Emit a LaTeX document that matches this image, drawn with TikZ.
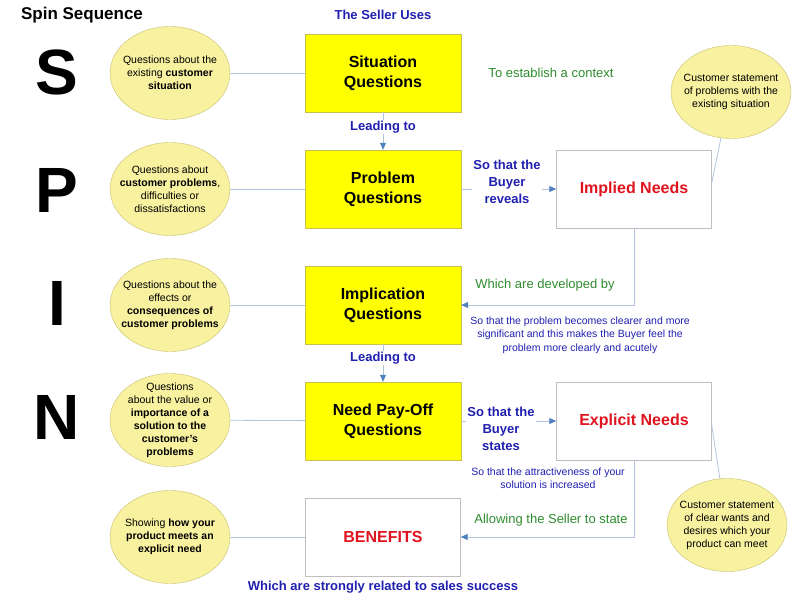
\documentclass[tikz,border=0pt]{standalone}
\usepackage{fontspec}
\setmainfont{Liberation Sans}
\usetikzlibrary{arrows.meta,shapes.geometric}
\definecolor{ell}{HTML}{F8F1A0}
\definecolor{elld}{HTML}{C8C070}
\definecolor{ybox}{HTML}{FFFF00}
\definecolor{yboxd}{HTML}{C8C050}
\definecolor{lnk}{HTML}{B4C4DC}
\definecolor{arr}{HTML}{4F81BD}
\definecolor{tblue}{HTML}{2020B0}
\definecolor{tgreen}{HTML}{2E8B2E}
\definecolor{tred}{HTML}{E0141E}
\begin{document}
\begin{tikzpicture}[x=1pt,y=-1pt,
 ell/.style={ellipse,draw=elld,fill=ell,minimum width=120pt,minimum height=93pt,inner sep=0pt},
 et/.style={align=center,font=\fontsize{10.5}{13}\selectfont,inner sep=0pt},
 yb/.style={draw=yboxd,fill=ybox,minimum width=156pt,minimum height=78pt,align=center,font=\fontsize{16}{20}\selectfont\bfseries},
 wb/.style={draw=gray!50,fill=white,minimum width=155pt,minimum height=78pt,align=center,font=\fontsize{16}{20}\selectfont\bfseries,text=tred},
 big/.style={font=\fontsize{64}{64}\selectfont\bfseries},
 ln/.style={draw=lnk,line width=0.8pt},
 ar/.style={ln,-{Triangle[length=7pt,width=6pt,fill=arr,color=arr]}},
 bl/.style={text=tblue,font=\fontsize{13}{17}\selectfont\bfseries,align=center},
 gr/.style={text=tgreen,font=\fontsize{13}{15}\selectfont},
 sm/.style={text=tblue,font=\fontsize{10.5}{13.5}\selectfont,align=center}]
\useasboundingbox (0,0) rectangle (800,596);
\node[font=\fontsize{17}{17}\selectfont\bfseries] (title) at (82,15) {Spin Sequence};
\node[bl] (seller) at (383,15) {The Seller Uses};
\node[big] (S) at (57,72) {S};
\node[big] (P) at (57,190) {P};
\node[big] (I) at (57,303) {I};
\node[big] (N) at (57,417) {N};
\node[ell] (e1) at (170,73) {};
\node[ell] (e2) at (170,189) {};
\node[ell] (e3) at (170,305) {};
\node[ell] (e4) at (170,420) {};
\node[ell] (e5) at (170,537) {};
\node[ell] (e6) at (731,92) {};
\node[ell] (e7) at (727,525) {};
\node[et] (x1) at (e1) {Questions about the\\existing \textbf{customer}\\\textbf{situation}};
\node[et] (x2) at (e2) {Questions about\\\textbf{customer problems},\\difficulties or\\dissatisfactions};
\node[et] (x3) at (e3) {Questions about the\\effects or\\\textbf{consequences of}\\\textbf{customer problems}};
\node[et] (x4) at (e4) {Questions\\about the value or\\\textbf{importance of a}\\\textbf{solution to the}\\\textbf{customer's}\\\textbf{problems}};
\node[et] (x5) at (e5) {Showing \textbf{how your}\\\textbf{product meets an}\\\textbf{explicit need}};
\node[et] (x6) at (e6) {Customer statement\\of problems with the\\existing situation};
\node[et] (x7) at (e7) {Customer statement\\of clear wants and\\desires which your\\product can meet};
\node[yb] (b1) at (383,73) {Situation\\Questions};
\node[yb] (b2) at (383,189) {Problem\\Questions};
\node[yb] (b3) at (383,305) {Implication\\Questions};
\node[yb] (b4) at (383,421) {Need Pay-Off\\Questions};
\node[wb] (b5) at (383,537) {BENEFITS};
\node[wb] (w1) at (634,189) {Implied Needs};
\node[wb] (w2) at (634,421) {Explicit Needs};
\foreach \a/\b in {e1/b1,e2/b2,e3/b3,e4/b4,e5/b5} \draw[ln] (\a) -- (\b);
\draw[ln] (e6.south) ++(-10,-1) -- (w1.east |- 0,183);
\draw[ln] (e7.north) ++(-7,1) -- (w2.east |- 0,425);
\draw[ar] (b1) -- (b2);
\draw[ar] (b3) -- (b4);
\node[bl,fill=white,inner sep=1pt] (l1) at (383,127) {Leading to};
\node[bl,fill=white,inner sep=1pt] (l2) at (383,358) {Leading to};
\draw[ar] (b2) -- (w1);
\draw[ar] (b4) -- (w2);
\node[bl,fill=white,inner sep=1pt] (r1) at (507,182) {So that the\\Buyer\\reveals};
\node[bl,fill=white,inner sep=1pt] (r2) at (501,429) {So that the\\Buyer\\states};
\draw[ar] (w1.south) |- (b3.east);
\draw[ar] (w2.south) |- (b5.east);
\node[gr] (t1) at (551,73) {To establish a context};
\node[gr] (t2) at (545,285) {Which are developed by};
\node[gr] (t3) at (551,520) {Allowing the Seller to state};
\node[sm] (t4) at (580,335) {So that the problem becomes clearer and more\\significant and this makes the Buyer feel the\\problem more clearly and acutely};
\node[sm] (t5) at (548,478) {So that the attractiveness of your\\solution is increased};
\node[bl] (t6) at (383,587) {Which are strongly related to sales success};
\end{tikzpicture}
\end{document}
